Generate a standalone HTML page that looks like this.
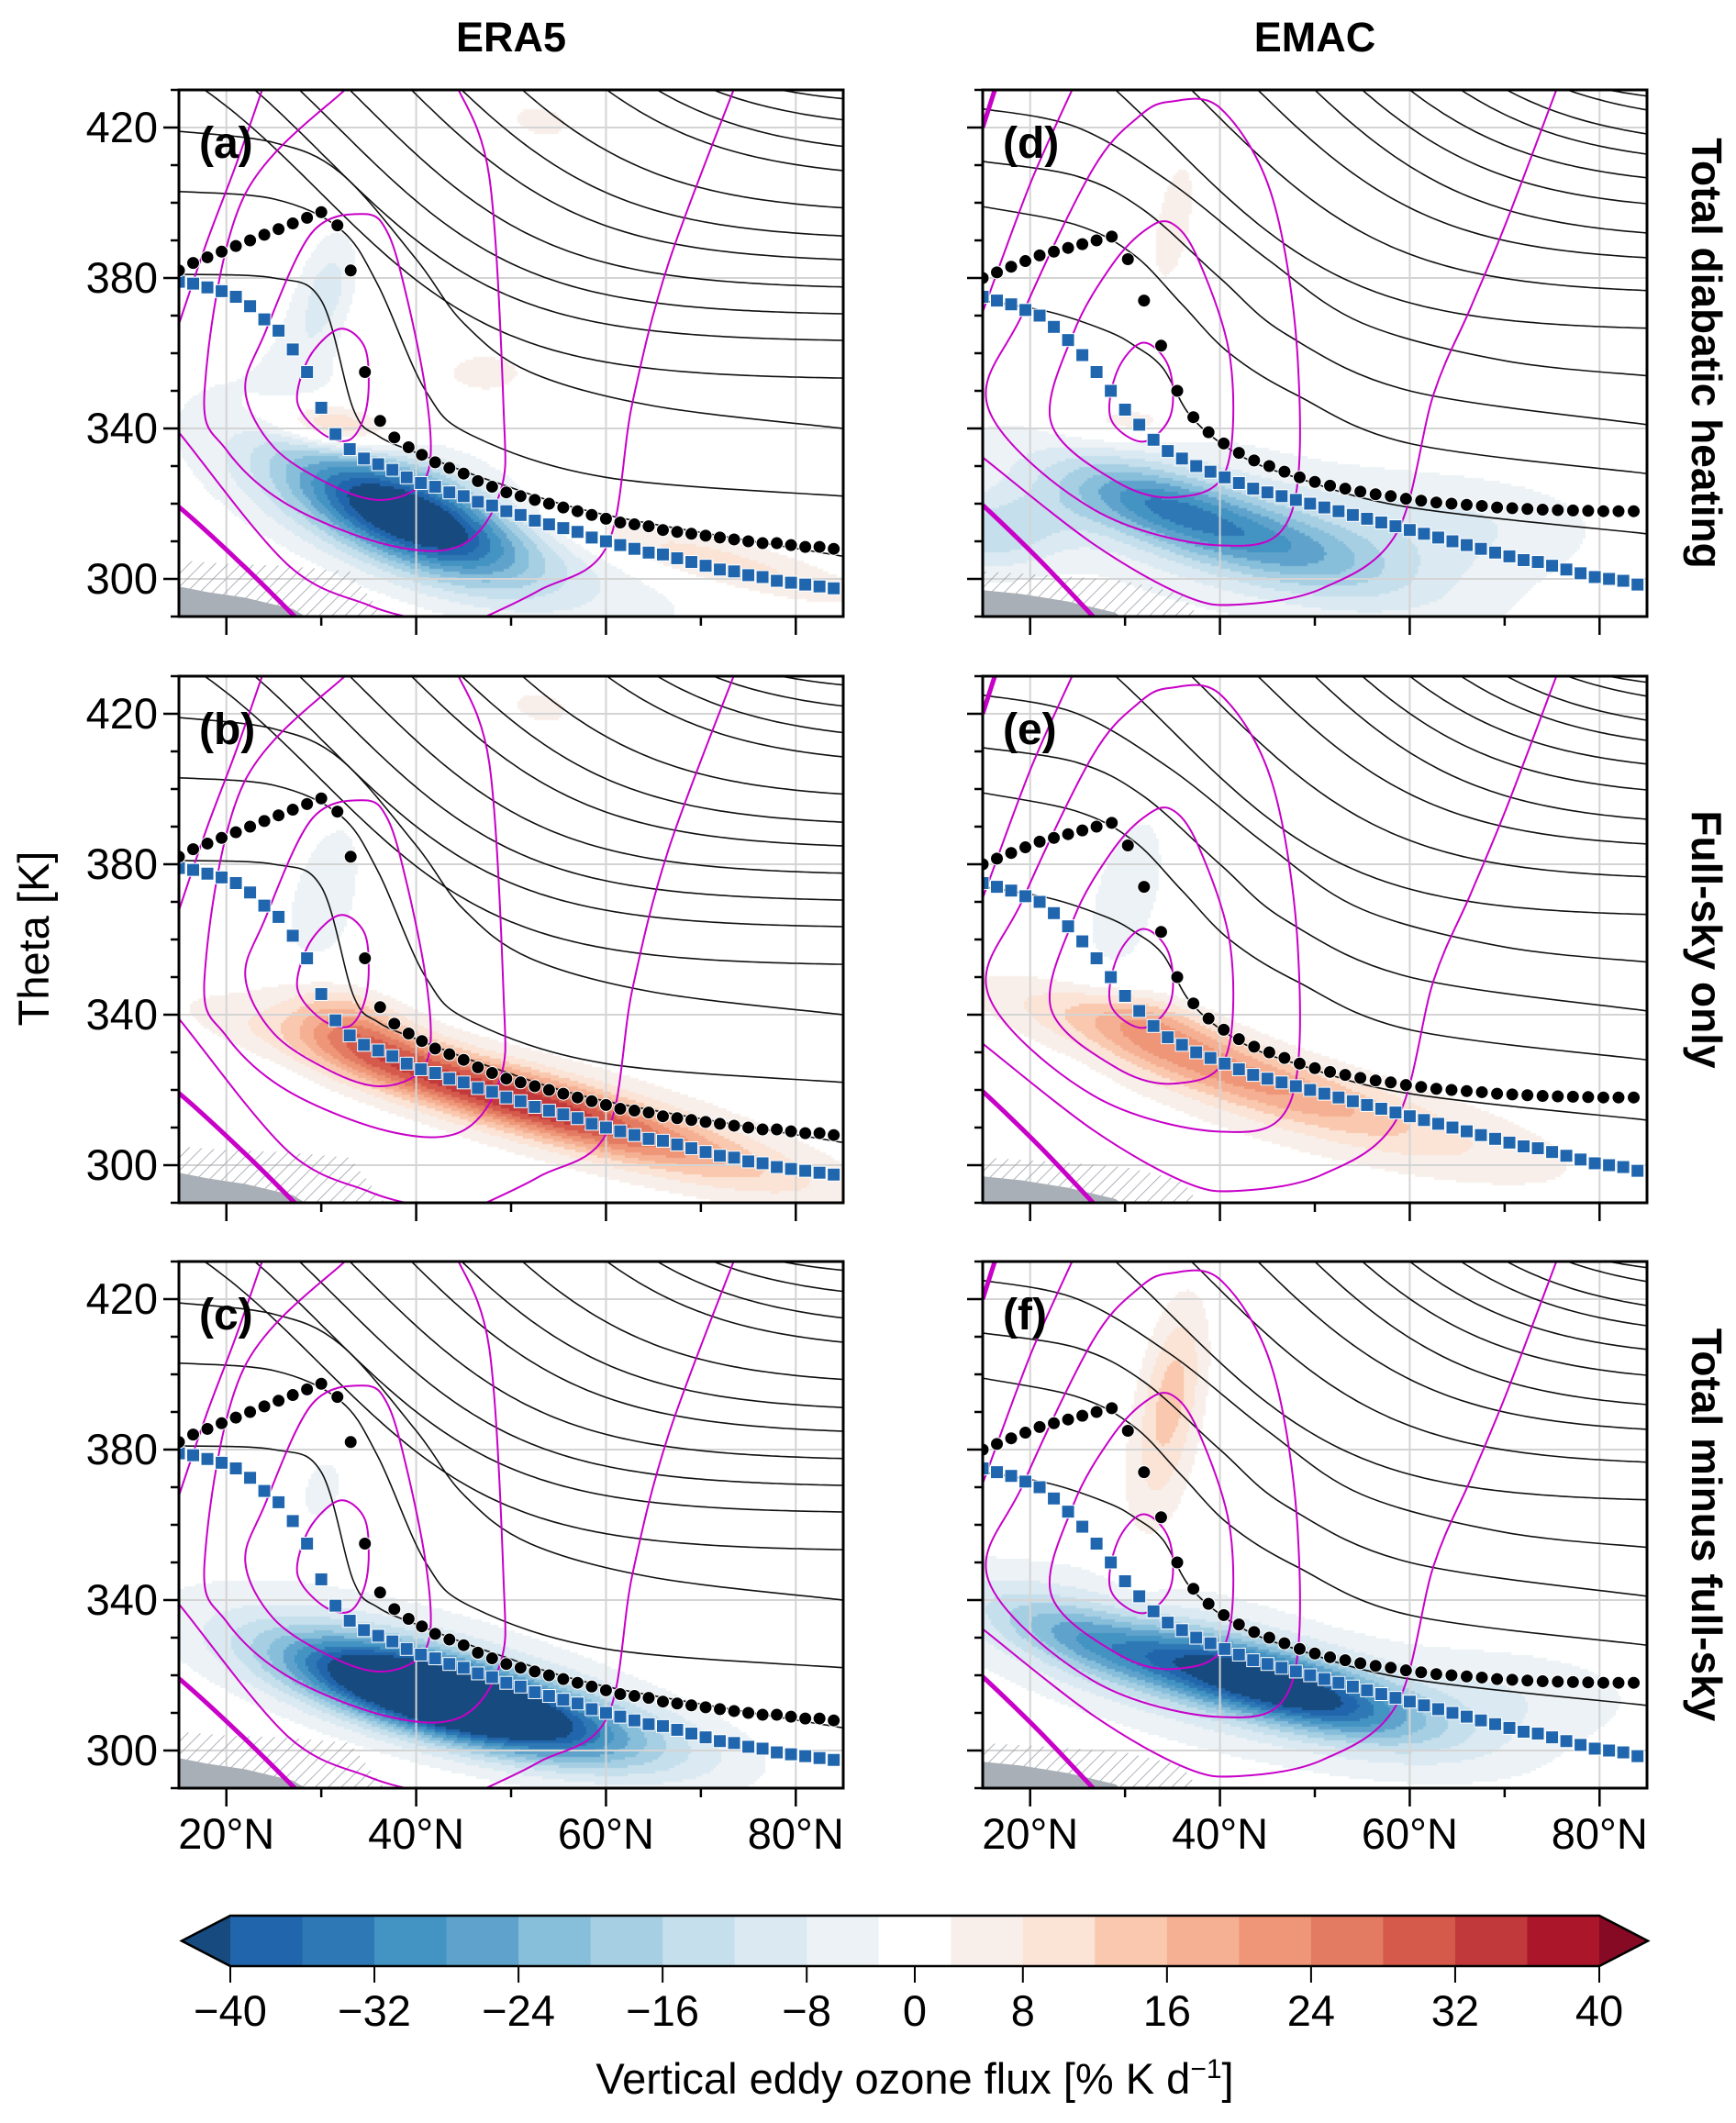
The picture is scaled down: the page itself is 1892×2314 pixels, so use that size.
<!DOCTYPE html>
<html><head><meta charset="utf-8"><style>
html,body{margin:0;padding:0;background:#fff;}
#wrap{position:relative;width:1892px;height:2314px;overflow:hidden;font-family:"Liberation Sans",Arial,sans-serif;}
canvas{position:absolute;}
svg{position:absolute;left:0;top:0;}
</style></head><body>
<div id="wrap">
<svg id="svg" width="1892" height="2314" viewBox="0 0 1892 2314">
<defs>
<pattern id="hatch" patternUnits="userSpaceOnUse" width="10" height="10" patternTransform="rotate(45)">
<line x1="0" y1="0" x2="0" y2="10" stroke="#9aa0a8" stroke-width="1.6"/>
</pattern>
</defs>
</svg>
</div>
<script>
// ---------- data ----------
const cbLevels=[-40,-36,-32,-28,-24,-20,-16,-12,-8,-4,4,8,12,16,20,24,28,32,36,40];
const cbColors=['#174a7e','#2166ac','#2e78b5','#4393c3','#5fa3cc','#87beda','#a6cfe3','#c5dfec','#dae9f2','#ecf2f5','#ffffff','#f8efea','#fbe3d5','#f9c8ae','#f5b093','#ee9677','#e27b62','#d55a4b','#c1393b','#ab162a','#870a24'];
const cbTickLabels=['\u221240','\u221232','\u221224','\u221216','\u22128','0','8','16','24','32','40'];
const cbTickPos=[0,2,4,6,8,9.5,11,13,15,17,19];
const yTicks=[300,340,380,420];
const xTicks=[20,40,60,80];
const xTickLabels=['20°N','40°N','60°N','80°N'];
const era5DotLat=[15,16.5,18,19.5,21,22.5,24,25.5,27,28.5,30,31.7,33.1,34.6,36.2,37.7,39.2,40.6,42,43.5,45,46.5,48,49.5,51,52.5,54,55.5,57,58.5,60,61.5,63,64.5,66,67.5,69,70.5,72,73.5,75,76.5,78,79.5,81,82.5,84];
const era5DotTh=[382,384,385.5,387,388.5,390,391.5,393,394.5,396,397.5,394,382,355,342,337.6,335,333,331,329.5,328,326,324.5,323,322,321,320,319,318,317,316,315,314.5,314,313,312.5,312,311.5,311,310.5,310,309.5,309.5,309,308.5,308.5,308];
const era5SqLat=[15,16.5,18,19.5,21,22.5,24,25.5,27,28.5,30,31.5,33,34.5,36,37.5,39,40.5,42,43.5,45,46.5,48,49.5,51,52.5,54,55.5,57,58.5,60,61.5,63,64.5,66,67.5,69,70.5,72,73.5,75,76.5,78,79.5,81,82.5,84];
const era5SqTh=[379,378.5,377.5,376.5,375,372.5,369,366,361,355,345.5,338.5,334.5,332,330.5,329,327,325.5,324.5,323,322,320.5,319.5,318,317,315.5,314.5,313.5,312.5,311,310,309,308,307,306.5,305.5,304.5,303.5,302.5,302,301,300.5,299.5,299,298.5,298,297.5];
const emacDotLat=[15,16.5,18,19.5,21,22.5,24,25.5,27,28.6,30.3,32,33.8,35.5,37.2,38.8,40.4,42,43.6,45.2,46.8,48.4,50,51.6,53.2,54.8,56.4,58,59.6,61.2,62.8,64.4,66,67.6,69.2,70.8,72.4,74,75.6,77.2,78.8,80.4,82,83.6];
const emacDotTh=[380,381.5,383,384.5,386,387,388,389,390,391,385,374,362,350,343,339,336,333.5,331.5,330,328.5,327,325.8,324.8,324,323.2,322.5,322,321.3,320.8,320.3,320,319.7,319.4,319,318.8,318.6,318.4,318.3,318.2,318.1,318,318,318];
const emacSqLat=[15,16.5,18,19.5,21,22.5,24,25.5,27,28.5,30,31.5,33,34.5,36,37.5,39,40.5,42,43.5,45,46.5,48,49.5,51,52.5,54,55.5,57,58.5,60,61.5,63,64.5,66,67.5,69,70.5,72,73.5,75,76.5,78,79.5,81,82.5,84];
const emacSqTh=[375,374,373,371.5,370,367,363.5,359.5,355,350,345,341,337,334,332,330,328.5,327,325.5,324,323,322,321,320,319,318,317,316,315,314,313,312,311,310,309,308,307,306,305,304.5,303.5,302.5,301.5,300.5,300,299.5,298.5];
const era5LowLines=[
 [[15,381],[25,380],[30,374],[33.4,345],[36,338],[40.6,333],[48,326],[60,317],[85,306]],
 [[15,403],[25,401],[32,393],[36,378],[41,350],[46,338],[60,327],[85,322]],
 [[15,419],[25,416],[32,408],[40,385],[45,368],[52,355],[65,346],[85,340]]];
const era5UpR=[353,363,370,377,384,390,397,406,412,419,425];
const era5UpTop=[17.7,23,27.7,33,39.5,44.8,51.2,60.1,65.4,71.3,78.4];
const emacLowLines=[
 [[15,374],[22,371],[28,366],[31,362],[34,356],[37,343],[42,333],[48,327],[60,319],[85,312]],
 [[15,399],[25,394],[31,386],[36,373],[41,360],[48,349],[60,336],[85,328]],
 [[15,411],[25,407],[32,398],[40,380],[47,365],[60,350],[85,341]],
 [[15,425],[25,420],[35,405],[45,385],[55,368],[70,358],[85,354]]];
const emacUpR=[366,375.7,384,390,397.4,403.8,409.4,414.2,420.2,425];
const emacUpTop=[29,37,44,50,55,60,65.4,70.2,76.6,80.9];
const era5Wind=[
 {w:2,c:1,p:[[32,366.5],[34.5,362],[35,352],[34.5,343],[33,337],[30.5,338],[28,344],[27.5,350],[29,360]]},
 {w:2,c:1,p:[[34.5,397],[37,392],[39,375],[41,350],[41.5,332],[40,324],[36,321],[31,325],[25,335],[22,350],[24,365],[29,392]]},
 {w:2,c:0,p:[[23.9,431],[21,410],[18,390],[15.3,370],[14,360]]},
 {w:2,c:0,p:[[32.9,431],[21.8,401.4],[17.7,350],[20,334.3],[26.5,319.7],[37.1,309],[44.8,309],[48.9,323.4],[49.2,346],[47.7,407],[44.3,431]]},
 {w:2,c:0,p:[[14,342],[15.3,338],[26.5,303.7],[35,293],[40.6,289]]},
 {w:2,c:0,p:[[46.5,289],[53,297],[60.1,308.7],[62.8,347],[66.6,384],[73.6,431]]},
 {w:5,c:0,p:[[14,320],[15.3,318.5],[22,303],[27.6,289]]}];
const emacWind=[
 {w:2,c:1,p:[[31.9,362.8],[34.6,356.4],[34.8,343.5],[31.9,336.5],[28.5,342.6],[29.2,355.4]]},
 {w:2,c:1,p:[[31.9,392.3],[34.8,394.7],[37.7,385],[41.1,358.2],[40.6,328.7],[35.3,321.7],[29,326],[22.2,341.6],[24.6,365.6],[28.5,383]]},
 {w:2,c:1,p:[[34.8,426.9],[40.1,425],[45.5,401.6],[48.2,358.2],[47.4,316.7],[40.1,308.9],[26.6,318.6],[15.6,345.3],[19.3,371],[26.6,408.9],[31.4,422.8]]},
 {w:2,c:0,p:[[24.6,431],[20,405],[15,371],[14,365]]},
 {w:2,c:0,p:[[14,334],[15,332.3],[26.6,309.4],[36.3,295.5],[42.1,293.2],[50.8,297.5],[58.6,312.1],[62.5,349],[66.4,372],[70.2,395],[75.6,431]]},
 {w:5,c:0,p:[[14,321],[15,319.6],[21,305],[27,289]]},
 {w:5,c:0,p:[[15,420],[16.4,431]]}];
// anomaly field components: [lat, theta, amplitude, sigmaAlong(px), sigmaAcross(px), angle(deg)]
const fieldA=[[39,317,-40,90,34,22],[45,310,-8,200,50,18],[30,335,-5,150,60,30],[29,370,-6,80,25,-75],[31,378,-5,35,18,-75],[31,341,20,50,18,10],[47,355,6,40,20,0],[70,306,11,130,20,14],[53,422,5,20,40,-80]];
const fieldB=[[50,318,30,170,22,16],[33,338,15,60,25,25],[30,370,-6,90,35,-75],[53,422,5,20,40,-80],[58,313,7,230,45,15]];
const fieldC=[[42,315,-58,110,28,15],[40,320,-10,200,55,15],[58,306,-12,110,30,12],[30,370,-5,40,25,-75]];
const fieldD=[[43,311,-20,110,30,15],[32,322,-14,70,25,15],[40,315,-8,240,75,15],[16,312,-12,30,60,80],[30,342,9,50,15,0],[35,395,5,90,25,-80],[65,315,-6,120,40,0]];
const fieldE=[[38,328,18,150,24,18],[32,340,10,60,20,15],[30,372,-6,90,35,-75],[55,312,7,200,40,12]];
const fieldF=[[45,318,-40,110,26,15],[38,322,-10,230,60,15],[25,330,-14,80,25,20],[34,385,9,100,28,-80],[35,398,6,60,20,-80],[70,315,-6,120,40,0]];

// ---------- layout ----------
const colX=[195,1071], W=724, H=574, rowY=[98,737,1375];
const panels=[
 {c:0,r:0,l:'(a)',f:fieldA},{c:0,r:1,l:'(b)',f:fieldB},{c:0,r:2,l:'(c)',f:fieldC},
 {c:1,r:0,l:'(d)',f:fieldD},{c:1,r:1,l:'(e)',f:fieldE},{c:1,r:2,l:'(f)',f:fieldF}];
const NS='http://www.w3.org/2000/svg';
const svg=document.getElementById('svg');
const wrap=document.getElementById('wrap');
function el(t,a,p){const e=document.createElementNS(NS,t);for(const k in a)e.setAttribute(k,a[k]);(p||svg).appendChild(e);return e;}
function colorFor(v){let i=0;while(i<cbLevels.length&&cbLevels[i]<v)i++;return cbColors[i];}
function smooth(pts,closed){
 const n=pts.length;let d='M'+pts[0][0]+','+pts[0][1];
 const g=i=>closed?pts[(i+n)%n]:pts[Math.max(0,Math.min(n-1,i))];
 const m=closed?n:n-1;
 for(let i=0;i<m;i++){const p0=g(i-1),p1=g(i),p2=g(i+1),p3=g(i+2);
  d+=' C'+(p1[0]+(p2[0]-p0[0])/6)+','+(p1[1]+(p2[1]-p0[1])/6)+' '+(p2[0]-(p3[0]-p1[0])/6)+','+(p2[1]-(p3[1]-p1[1])/6)+' '+p2[0]+','+p2[1];}
 return d+(closed?'Z':'');}

panels.forEach((P,pi)=>{
 const x0=colX[P.c], y0=rowY[P.r];
 const X=lat=>x0+(lat-15)/70*W, Y=th=>y0+(430-th)/140*H;
 const isE=P.c===0;
 const cv=document.createElement('canvas');cv.width=W;cv.height=H;cv.style.left=x0+'px';cv.style.top=y0+'px';
 
 
 wrap.insertBefore(cv,svg);
 const ctx=cv.getContext('2d');const st=3;
 const comps=P.f.map(c=>{const a=c[5]*Math.PI/180;return {cx:X(c[0])-x0,cy:Y(c[1])-y0,A:c[2],sa:c[3],sc:c[4],ca:Math.cos(a),sn:Math.sin(a)};});
 for(let py=0;py<H;py+=st)for(let px=0;px<W;px+=st){
  let v=0;for(const q of comps){const dx=px-q.cx,dy=py-q.cy;const u=dx*q.ca+dy*q.sn,w=-dx*q.sn+dy*q.ca;v+=q.A*Math.exp(-0.5*(u*u/(q.sa*q.sa)+w*w/(q.sc*q.sc)));}
  const c=colorFor(v);if(c!=='#ffffff'){ctx.fillStyle=c;ctx.fillRect(px,py,st,st);}
 }
 const g=el('g',{'clip-path':'url(#clip'+pi+')'});
 
 
 const cp=el('clipPath',{id:'clip'+pi});el('rect',{x:x0,y:y0,width:W,height:H},cp);
 xTicks.forEach(t=>{const l=el('line',{x1:X(t),x2:X(t),y1:y0,y2:y0+H,stroke:'#d4d4d4','stroke-width':2},g);});
 yTicks.forEach(t=>{const l=el('line',{x1:x0,x2:x0+W,y1:Y(t),y2:Y(t),stroke:'#d4d4d4','stroke-width':2},g);});
 const terr=isE?[[15,298],[18,296.5],[22,295],[27,292],[29,289],[15,289]]:[[15,297],[19,296],[24,294],[29,291],[30,289],[15,289]];
 const hat=isE?[[15,305],[20,304],[26,303.5],[33,302],[37,289],[15,289]]:[[15,302],[22,301],[30,299.5],[36,296],[38,289],[15,289]];
 const hp=el('path',{d:'M'+hat.map(p=>X(p[0])+','+Y(p[1])).join('L')+'Z',fill:'url(#hatch)'},g);
 
 const tp=el('path',{d:'M'+terr.map(p=>X(p[0])+','+Y(p[1])).join('L')+'Z',fill:'#a9afb6'},g);
 
 const low=isE?era5LowLines:emacLowLines, upR=isE?era5UpR:emacUpR, upT=isE?era5UpTop:emacUpTop;
 low.forEach(line=>{const p=el('path',{d:smooth(line.map(q=>[X(q[0]),Y(q[1])]),false),fill:'none',stroke:'#111','stroke-width':1.6},g);});
 upR.forEach((R,i)=>{const A=100,w=20,s=(430-R)/A;const c=upT[i]-w*Math.atanh(1-2*s);const pts=[];
  for(let lat=12;lat<=86;lat+=0.5){pts.push([X(lat),Y(R+A*0.5*(1-Math.tanh((lat-c)/w)))]);}
  const p=el('path',{d:'M'+pts.map(q=>q[0].toFixed(1)+','+q[1].toFixed(1)).join('L'),fill:'none',stroke:'#111','stroke-width':1.6},g);
  });
 (isE?era5Wind:emacWind).forEach(m=>{const p=el('path',{d:smooth(m.p.map(q=>[X(q[0]),Y(q[1])]),!!m.c),fill:'none',stroke:'#c800c8','stroke-width':m.w},g);
  });
 const sl=isE?era5SqLat:emacSqLat, sth=isE?era5SqTh:emacSqTh;
 sl.forEach((lat,i)=>{const r=el('rect',{x:X(lat)-7,y:Y(sth[i])-7,width:14,height:14,fill:'#1f66ae',stroke:'#fff','stroke-width':1},g);
  });
 const dl=isE?era5DotLat:emacDotLat, dth=isE?era5DotTh:emacDotTh;
 dl.forEach((lat,i)=>{const c=el('circle',{cx:X(lat),cy:Y(dth[i]),r:7,fill:'#000',stroke:'#fff','stroke-width':1},g);
  });
 const fr=el('rect',{x:x0,y:y0,width:W,height:H,fill:'none',stroke:'#000','stroke-width':3});
 
 for(let t=290;t<=430;t+=10){const maj=yTicks.includes(t);const l=el('line',{x1:x0,x2:x0-(maj?17:9),y1:Y(t),y2:Y(t),stroke:'#000','stroke-width':2.5});
  }
 for(let t=20;t<=80;t+=10){const maj=t%20===0;const l=el('line',{x1:X(t),x2:X(t),y1:y0+H,y2:y0+H+(maj?20:10),stroke:'#000','stroke-width':2.5});
  }
 if(P.c===0){yTicks.forEach(t=>{const tx=el('text',{x:172,y:Y(t)+16,'text-anchor':'end','font-size':47,fill:'#000'});tx.textContent=t;
  });}
 if(P.r===2){xTicks.forEach((t,i)=>{const tx=el('text',{x:X(t),y:y0+H+66,'text-anchor':'middle','font-size':47,fill:'#000'});tx.textContent=xTickLabels[i];
  });}
 const lt=el('text',{x:x0+22,y:y0+74,'font-size':48,'font-weight':'bold',fill:'#000'});lt.textContent=P.l;
 
});
[['ERA5',557],['EMAC',1433]].forEach(t=>{const tx=el('text',{x:t[1],y:56,'text-anchor':'middle','font-size':45,'font-weight':'bold'});tx.textContent=t[0];
 });
['Total diabatic heating','Full-sky only','Total minus full-sky'].forEach((s,i)=>{const cy=rowY[i]+H/2;
 const tx=el('text',{x:1860,y:cy,'text-anchor':'middle','font-size':46,'font-weight':'bold',transform:'rotate(90 1860 '+cy+') translate(0 16)'});tx.textContent=s;
 });
const yt=el('text',{x:37,y:1023,'text-anchor':'middle','font-size':47,transform:'rotate(-90 37 1023) translate(0 16)'});yt.textContent='Theta [K]';

const cbx0=251,cbx1=1743,cby0=2088,cby1=2143,nb=cbLevels.length-1,bw=(cbx1-cbx0)/nb;
for(let i=0;i<nb;i++){const r=el('rect',{x:cbx0+i*bw,y:cby0,width:bw+0.5,height:cby1-cby0,fill:cbColors[i+1]});
 }
const lx=el('polygon',{points:cbx0+','+cby0+' 198,'+(cby0+cby1)/2+' '+cbx0+','+cby1,fill:cbColors[0]});
const rx=el('polygon',{points:cbx1+','+cby0+' 1796,'+(cby0+cby1)/2+' '+cbx1+','+cby1,fill:cbColors[20]});
const ol=el('polygon',{points:cbx0+','+cby0+' '+cbx1+','+cby0+' 1796,'+(cby0+cby1)/2+' '+cbx1+','+cby1+' '+cbx0+','+cby1+' 198,'+(cby0+cby1)/2,fill:'none',stroke:'#000','stroke-width':2.5});

cbTickPos.forEach((p,i)=>{const x=cbx0+p*bw;const l=el('line',{x1:x,x2:x,y1:cby1,y2:cby1+18,stroke:'#000','stroke-width':2});
 
 const tx=el('text',{x:x,y:2208,'text-anchor':'middle','font-size':47});tx.textContent=cbTickLabels[i];
 });
const ct=el('text',{x:997,y:2282,'text-anchor':'middle','font-size':47});
ct.innerHTML='Vertical eddy ozone flux [% K d<tspan dy="-17" font-size="30">\u22121</tspan><tspan dy="17">]</tspan>';

</script>
</body></html>
